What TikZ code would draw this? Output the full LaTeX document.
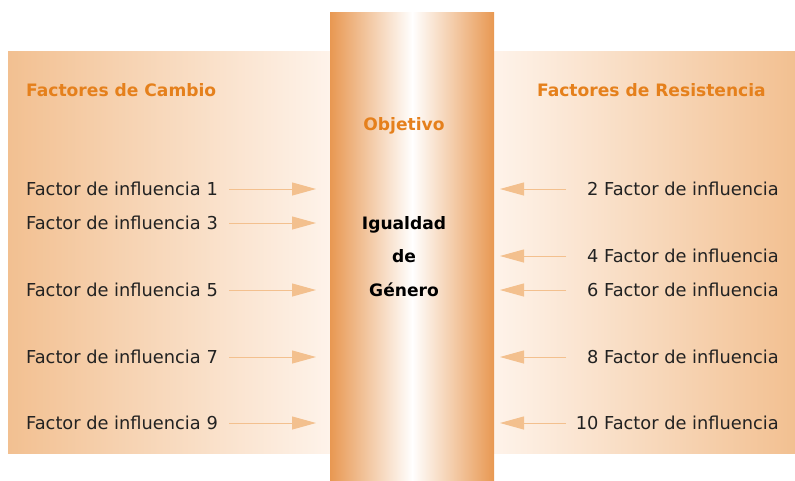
\documentclass[tikz,border=0pt]{standalone}
\usepackage{fontspec}
\setmainfont{DejaVu Sans}
\usetikzlibrary{arrows.meta,positioning}

\definecolor{naranja}{RGB}{229,128,28}
\definecolor{melocoton}{RGB}{242,192,145}
\definecolor{crema}{RGB}{254,243,234}
\definecolor{cobre}{RGB}{232,152,82}
\definecolor{flecha}{RGB}{243,192,142}
\definecolor{texto}{RGB}{34,34,34}

\begin{document}
\begin{tikzpicture}[x=1pt,y=-1pt,
	factor/.style={font=\fontsize{17.8}{20}\selectfont, text=texto, inner sep=0pt, text height=12.8pt, text depth=0pt},
	titulo/.style={font=\fontsize{17.1}{20}\selectfont\bfseries, text=naranja, inner sep=0pt, text height=12.8pt, text depth=0pt},
	meta/.style={font=\fontsize{17.1}{20}\selectfont\bfseries, text=black, inner sep=0pt, text height=12.8pt, text depth=0pt},
	flujo/.style={draw=flecha, line width=1pt, -{Triangle[length=24pt,width=13pt]}}]
	\useasboundingbox (0,0) rectangle (795,480);

	% paneles y columna central
	\shade [left color=melocoton, right color=crema] (8,51) rectangle (330,453);
	\shade [left color=crema, right color=melocoton] (494,51) rectangle (795,453);
	\shade [left color=cobre, right color=white] (330,12) rectangle (412.5,480);
	\shade [left color=white, right color=cobre] (412,12) rectangle (494,480);

	% titulos
	\node [titulo, anchor=west] (cambio) at (26,90) {Factores de Cambio};
	\node [titulo, anchor=east] (resistencia) at (766,90) {Factores de Resistencia};
	\node [titulo] (objetivo) at (404,124) {Objetivo};
	\node [meta] (igualdad) at (404,223) {Igualdad};
	\node [meta] (de) at (404,256) {de};
	\node [meta] (genero) at (404,290) {Género};

	% factores de cambio
	\node [factor, anchor=west] (l1) at (26,189) {Factor de influencia 1};
	\node [factor, anchor=west] (l3) at (26,223) {Factor de influencia 3};
	\node [factor, anchor=west] (l5) at (26,290) {Factor de influencia 5};
	\node [factor, anchor=west] (l7) at (26,357) {Factor de influencia 7};
	\node [factor, anchor=west] (l9) at (26,423) {Factor de influencia 9};

	% factores de resistencia
	\node [factor, anchor=east] (r2) at (779,189) {2 Factor de influencia};
	\node [factor, anchor=east] (r4) at (779,256) {4 Factor de influencia};
	\node [factor, anchor=east] (r6) at (779,290) {6 Factor de influencia};
	\node [factor, anchor=east] (r8) at (779,357) {8 Factor de influencia};
	\node [factor, anchor=east] (r10) at (779,423) {10 Factor de influencia};

	\coordinate (salidaL) at (229,0);
	\coordinate (entradaL) at (316,0);
	\coordinate (salidaR) at (566,0);
	\coordinate (entradaR) at (500,0);

	\draw [flujo] (l1 -| salidaL) -- (l1 -| entradaL);
	\draw [flujo] (l3 -| salidaL) -- (l3 -| entradaL);
	\draw [flujo] (l5 -| salidaL) -- (l5 -| entradaL);
	\draw [flujo] (l7 -| salidaL) -- (l7 -| entradaL);
	\draw [flujo] (l9 -| salidaL) -- (l9 -| entradaL);

	\draw [flujo] (r2 -| salidaR) -- (r2 -| entradaR);
	\draw [flujo] (r4 -| salidaR) -- (r4 -| entradaR);
	\draw [flujo] (r6 -| salidaR) -- (r6 -| entradaR);
	\draw [flujo] (r8 -| salidaR) -- (r8 -| entradaR);
	\draw [flujo] (r10 -| salidaR) -- (r10 -| entradaR);

\end{tikzpicture}
\end{document}
